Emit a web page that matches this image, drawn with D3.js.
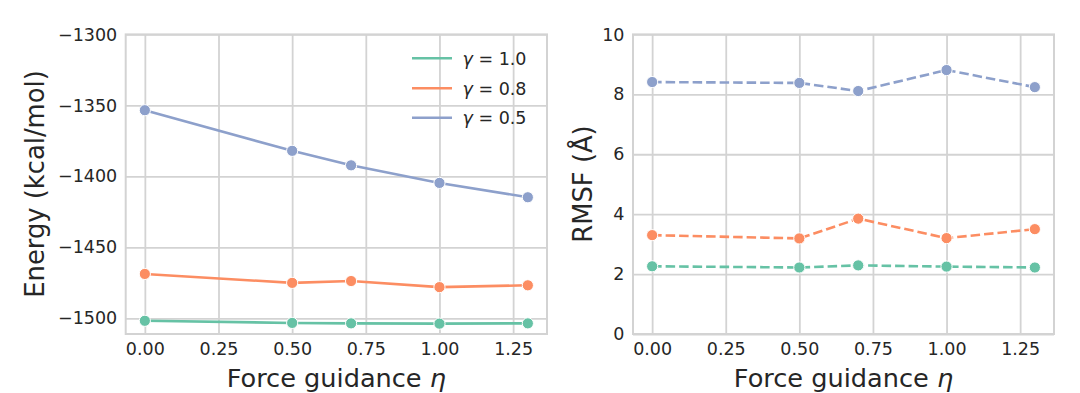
<!DOCTYPE html>
<html>
<head>
<meta charset="utf-8">
<script src="https://cdn.jsdelivr.net/npm/d3@7"></script>
<style>
  body { margin: 0; background: #fff; }
  svg text { font-family: "DejaVu Sans", sans-serif; fill: #262626; }
</style>
</head>
<body>
<svg id="chart" width="1080" height="393"></svg>
<script>
// data
var eta = [0, 0.5, 0.7, 1.0, 1.3];
var gammaLabels = ['1.0', '0.8', '0.5'];
var colors = ['#66c2a5', '#fc8d62', '#8da0cb'];

var energyG10 = [-1501.7, -1503.2, -1503.5, -1503.7, -1503.5];
var energyG08 = [-1468.7, -1475.0, -1473.7, -1478.0, -1476.7];
var energyG05 = [-1353.4, -1382.0, -1392.2, -1404.6, -1414.7];

var rmsfG10 = [2.26, 2.22, 2.29, 2.25, 2.22];
var rmsfG08 = [3.30, 3.19, 3.85, 3.20, 3.50];
var rmsfG05 = [8.41, 8.38, 8.11, 8.81, 8.24];

var xTicks = [0, 0.25, 0.5, 0.75, 1.0, 1.25];
var energyTicks = [-1500, -1450, -1400, -1350, -1300];
var rmsfTicks = [0, 2, 4, 6, 8, 10];

var svg = d3.select('#chart');
svg.append('rect').attr('width', 1080).attr('height', 393).attr('fill', '#fff');

// one panel
function drawPanel(opt){
  var x = d3.scaleLinear().domain([-0.065, 1.365]).range([opt.left, opt.right]);
  var y = d3.scaleLinear().domain(opt.yDomain).range([334, 34.4]);
  var g = svg.append('g');

  // grid + tick labels
  var xAxis = g.append('g').attr('transform', 'translate(0,334)')
    .call(d3.axisBottom(x).tickValues(xTicks).tickFormat(d3.format('.2f'))
      .tickSizeInner(-(334 - 34.4)).tickSizeOuter(0).tickPadding(9));
  var yAxis = g.append('g').attr('transform', 'translate(' + opt.left + ',0)')
    .call(d3.axisLeft(y).tickValues(opt.yTicks).tickFormat(d3.format('d'))
      .tickSizeInner(-(opt.right - opt.left)).tickSizeOuter(0).tickPadding(8.5));
  [xAxis, yAxis].forEach(function(a){
    a.select('.domain').remove();
    a.selectAll('line').attr('stroke', '#d3d3d3').attr('stroke-width', 1.8);
    a.selectAll('text').style('font-size', '17.5px').attr('fill', '#262626')
      .style('font-family', '"DejaVu Sans", sans-serif');
  });

  // frame
  g.append('rect')
    .attr('x', opt.left).attr('y', 34.4)
    .attr('width', opt.right - opt.left).attr('height', 334 - 34.4)
    .attr('fill', 'none').attr('stroke', '#d3d3d3').attr('stroke-width', 2);

  // axis labels
  g.append('text')
    .attr('x', (opt.left + opt.right) / 2).attr('y', 387)
    .attr('text-anchor', 'middle').style('font-size', '25.6px')
    .html('Force guidance <tspan font-style="italic">η</tspan>');
  g.append('text')
    .attr('transform', 'translate(' + opt.labelX + ',184) rotate(-90)')
    .attr('text-anchor', 'middle').style('font-size', '25.8px')
    .text(opt.yLabel);

  var line = d3.line().x(function(d, i){ return x(eta[i]); }).y(function(d){ return y(d); });

  opt.series.forEach(function(s, k){
    g.append('path').datum(s)
      .attr('d', line).attr('fill', 'none')
      .attr('stroke', colors[k]).attr('stroke-width', 2.6)
      .attr('stroke-dasharray', opt.dashed ? '9.5,4' : null);
    g.selectAll(null).data(s).enter().append('circle')
      .attr('cx', function(d, i){ return x(eta[i]); })
      .attr('cy', function(d){ return y(d); })
      .attr('r', 5.6)
      .attr('fill', colors[k]).attr('stroke', '#fff').attr('stroke-width', 1);
  });
  return g;
}

var left = drawPanel({
  left: 125.7, right: 547, yDomain: [-1511, -1300], yTicks: energyTicks,
  yLabel: 'Energy (kcal/mol)', labelX: 44, dashed: false,
  series: [energyG10, energyG08, energyG05]
});

// right panel uses dashed lines
drawPanel({
  left: 633, right: 1054, yDomain: [0, 10], yTicks: rmsfTicks,
  yLabel: 'RMSF (Å)', labelX: 592, dashed: true,
  series: [rmsfG10, rmsfG08, rmsfG05]
});

// legend
var legendY = [58.3, 88.3, 117.7];
gammaLabels.forEach(function(lab, k){
  left.append('line')
    .attr('x1', 412).attr('x2', 452).attr('y1', legendY[k]).attr('y2', legendY[k])
    .attr('stroke', colors[k]).attr('stroke-width', 2.6);
  left.append('text')
    .attr('x', 462.5).attr('y', legendY[k] + 6.3)
    .style('font-size', '17.5px')
    .html('<tspan font-style="italic">γ</tspan> = ' + lab);
});
</script>
</body>
</html>
